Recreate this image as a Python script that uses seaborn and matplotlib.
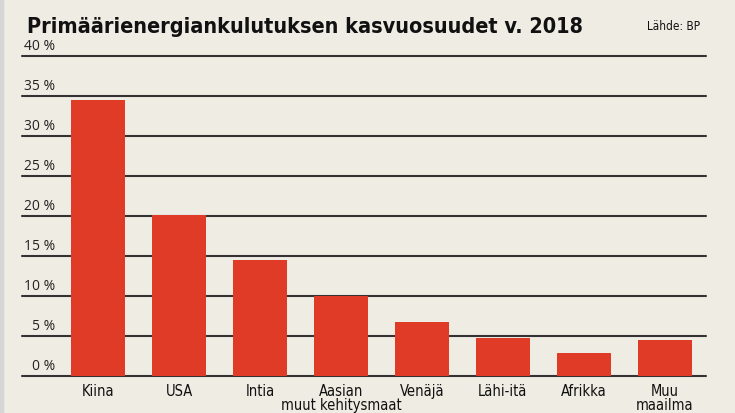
import matplotlib
matplotlib.use("Agg")
import matplotlib.pyplot as plt
import seaborn as sns
import pandas as pd
from matplotlib.patches import Rectangle

categories = ["Kiina", "USA", "Intia", "Aasian\nmuut kehitysmaat", "Venäjä",
              "Lähi-itä", "Afrikka", "Muu\nmaailma"]
values = [34.5, 20.1, 14.5, 10.0, 6.7, 4.7, 2.8, 4.5]
yticks = [0, 5, 10, 15, 20, 25, 30, 35, 40]
ytick_labels = [f"{t} %" for t in yticks]
title = "Primäärienergiankulutuksen kasvuosuudet v. 2018"
source = "Lähde: BP"

bg = "#EFECE4"
bar_color = "#E03B26"
grid_color = "#333333"

sns.set_theme(style="white")
plt.rcParams["font.family"] = ["DejaVu Sans"]
plt.rcParams["font.stretch"] = "condensed"

fig = plt.figure(figsize=(7.35, 4.14), dpi=100, facecolor=bg)
fig.patches.append(Rectangle((0, 0), 3 / 735, 1, transform=fig.transFigure,
                             color="#d6d6d4", zorder=0))
ax = fig.add_axes([22 / 735, 1 - 376.7 / 414, 684 / 735, (376.7 - 57) / 414])
ax.set_facecolor(bg)

df = pd.DataFrame({"cat": categories, "val": values})
sns.barplot(data=df, x="cat", y="val", color=bar_color, saturation=1,
            width=0.667, ax=ax, zorder=3, linewidth=0, edgecolor="none")

ax.set_ylim(0, 40)
ax.set_xlim(-0.94, 7.51)
ax.set_yticks(yticks)
ax.set_yticklabels([])
ax.tick_params(axis="y", length=0)
for t in yticks:
    ax.axhline(t, color=grid_color, lw=1.5, zorder=1, clip_on=False)
for t, lab in zip(yticks, ytick_labels):
    ax.text(0.048, t + 0.35, lab, transform=ax.get_yaxis_transform(),
            ha="right", va="bottom", fontsize=10, color="#222222",
            family=["Open Sans", "DejaVu Sans"], stretch="normal")

ax.set_xlabel("")
ax.set_ylabel("")
ax.tick_params(axis="x", length=0, pad=5, labelsize=10.5, labelcolor="#111111")
for lab in ax.get_xticklabels():
    lab.set_linespacing(0.95)
    lab.set_stretch("condensed")
for s in ax.spines.values():
    s.set_visible(False)

fig.text(27 / 735, 1 - 33 / 414, title, fontsize=15.5, fontweight="bold",
         ha="left", va="baseline", color="#111111", stretch="condensed")
fig.text(700 / 735, 1 - 30 / 414, source, fontsize=8.5, ha="right",
         va="baseline", color="#111111", stretch="condensed")

fig.savefig("out.png", dpi=100, facecolor=bg)
